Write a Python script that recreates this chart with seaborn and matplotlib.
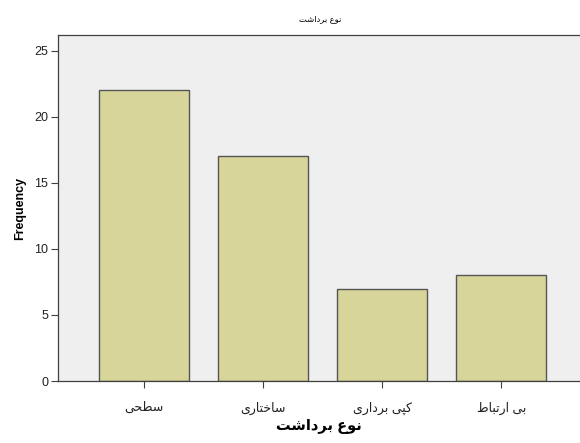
import matplotlib
matplotlib.use("Agg")
import matplotlib.pyplot as plt
import seaborn as sns
import pandas as pd

categories = ["سطحی", "ساختاری", "کپی برداری", "بی ارتباط"]
frequency = [22, 17, 7, 8]
title_text = "نوع برداشت"
xlabel_text = "نوع برداشت"
ylabel_text = "Frequency"
yticks = [0, 5, 10, 15, 20, 25]

# minimal Arabic/Persian shaping (matplotlib has no complex text layout)
FORMS = {
    "ا": ("\uFE8D", "\uFE8E", None, None),
    "ب": ("\uFE8F", "\uFE90", "\uFE91", "\uFE92"),
    "ت": ("\uFE95", "\uFE96", "\uFE97", "\uFE98"),
    "ح": ("\uFEA1", "\uFEA2", "\uFEA3", "\uFEA4"),
    "خ": ("\uFEA5", "\uFEA6", "\uFEA7", "\uFEA8"),
    "د": ("\uFEA9", "\uFEAA", None, None),
    "ر": ("\uFEAD", "\uFEAE", None, None),
    "س": ("\uFEB1", "\uFEB2", "\uFEB3", "\uFEB4"),
    "ش": ("\uFEB5", "\uFEB6", "\uFEB7", "\uFEB8"),
    "ط": ("\uFEC1", "\uFEC2", "\uFEC3", "\uFEC4"),
    "ع": ("\uFEC9", "\uFECA", "\uFECB", "\uFECC"),
    "ن": ("\uFEE5", "\uFEE6", "\uFEE7", "\uFEE8"),
    "و": ("\uFEED", "\uFEEE", None, None),
    "پ": ("\uFB56", "\uFB57", "\uFB58", "\uFB59"),
    "ک": ("\uFB8E", "\uFB8F", "\uFB90", "\uFB91"),
    "ی": ("\uFBFC", "\uFBFD", "\uFBFE", "\uFBFF"),
}


def shape(text):
    """Join letters into contextual forms and lay them out right-to-left."""
    out = []
    n = len(text)
    for i, ch in enumerate(text):
        if ch not in FORMS:
            out.append(ch)
            continue
        prev = text[i - 1] if i > 0 else None
        nxt = text[i + 1] if i + 1 < n else None
        joins_prev = prev in FORMS and FORMS[prev][2] is not None
        joins_next = nxt in FORMS and FORMS[ch][2] is not None
        iso, fin, ini, med = FORMS[ch]
        if joins_prev and joins_next:
            g = med
        elif joins_prev:
            g = fin
        elif joins_next:
            g = ini
        else:
            g = iso
        out.append(g)
    return "".join(reversed(out))


df = pd.DataFrame({"cat": [shape(c) for c in categories], "freq": frequency})

fam = ["Liberation Sans", "DejaVu Sans"]
fig = plt.figure(figsize=(5.8, 4.43), dpi=100)
fig.patch.set_facecolor("white")
ax = fig.add_axes([58 / 580, 1 - 381 / 443, 1 - 58 / 580, (381 - 35) / 443])
ax.set_facecolor("#efefef")

sns.barplot(data=df, x="cat", y="freq", ax=ax, color="#d8d59b",
            saturation=1, edgecolor="#555555", linewidth=1.0, width=0.755)

ax.set_xlim(-0.72, 3.66)
ax.set_ylim(0, 26.2)
ax.set_yticks(yticks)
ax.tick_params(axis="both", direction="out", length=5, width=0.8,
               color="#404040", labelsize=9, labelcolor="#222222")
ax.tick_params(axis="x", pad=10)
ax.tick_params(axis="y", pad=2)
for lab in ax.get_xticklabels():
    lab.set_family(fam)
    lab.set_fontsize(9)
for lab in ax.get_yticklabels():
    lab.set_family(fam)

for s in ["left", "bottom", "top"]:
    ax.spines[s].set_color("#404040")
    ax.spines[s].set_linewidth(0.9)
ax.spines["right"].set_visible(False)

ax.set_xlabel(shape(xlabel_text), family=fam, fontsize=10.5,
              fontweight="bold", labelpad=3)
ax.set_ylabel(ylabel_text, family=fam, fontsize=9, fontweight="bold",
              labelpad=6)
fig.text(0.552, 0.957, shape(title_text), family=fam, fontsize=6,
         ha="center", va="center")

fig.savefig("out.png", dpi=100)
